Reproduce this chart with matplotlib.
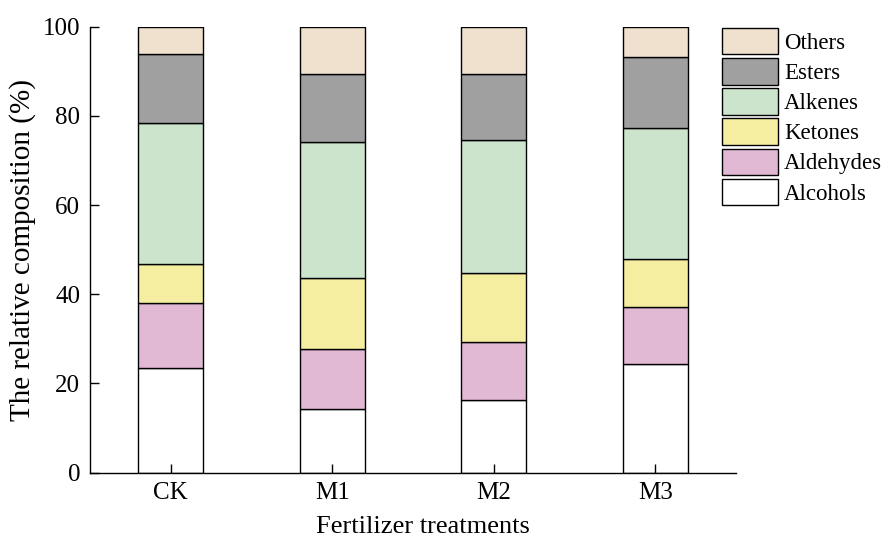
import matplotlib
matplotlib.use("Agg")
import matplotlib.pyplot as plt
import numpy as np

plt.rcParams['font.family'] = ['Liberation Serif', 'DejaVu Serif']
plt.rcParams['font.size'] = 18

# treatments and composition (%) of each compound class, bottom to top
treatments = ["CK", "M1", "M2", "M3"]
alcohols = [23.5, 14.3, 16.3, 24.3]
aldehydes = [14.6, 13.4, 13.1, 12.8]
ketones = [8.8, 16.0, 15.4, 10.9]
alkenes = [31.6, 30.4, 29.9, 29.2]
esters = [15.3, 15.2, 14.8, 16.0]
others = [6.2, 10.7, 10.5, 6.8]

classes = ["Alcohols", "Aldehydes", "Ketones", "Alkenes", "Esters", "Others"]
colors = ["#FFFFFF", "#E2B9D4", "#F5ED9F", "#CCE4CC", "#A0A0A0", "#F0E1CF"]
series = [alcohols, aldehydes, ketones, alkenes, esters, others]

fig = plt.figure(figsize=(8.88, 5.38), dpi=100)
ax = fig.add_axes([90 / 888, 1 - 472.7 / 538, (736 - 90) / 888, (472.7 - 26.7) / 538])

x = np.arange(len(treatments))
bottom = np.zeros(len(treatments))
handles = []
for vals, name, c in zip(series, classes, colors):
    h = ax.bar(x, vals, width=0.4, bottom=bottom, color=c, edgecolor="black",
               linewidth=1.0, label=name)
    handles.append(h)
    bottom += np.array(vals)

ax.set_xlim(-0.5, 3.5)
ax.set_ylim(0, 100)
ax.set_xticks(x)
ax.set_xticklabels(treatments)
ax.set_yticks([0, 20, 40, 60, 80, 100])
ax.tick_params(direction="in", length=6.5, width=1.0, pad=7)
for side in ("top", "right"):
    ax.spines[side].set_visible(False)
for side in ("left", "bottom"):
    ax.spines[side].set_linewidth(1.0)

ax.set_xlabel("Fertilizer treatments", fontsize=19, labelpad=8)
ax.xaxis.label.set_x(0.515)
ax.set_ylabel("The relative composition (%)", fontsize=21, labelpad=5)

fig.legend(handles[::-1], classes[::-1], loc="upper left",
           bbox_to_anchor=(722 / 888, 1 - 28 / 538), frameon=False,
           prop={"size": 16.5}, borderpad=0, borderaxespad=0,
           handlelength=2.45, handleheight=1.4,
           handletextpad=0.25, labelspacing=0.16)

fig.savefig("out.png", dpi=100)
